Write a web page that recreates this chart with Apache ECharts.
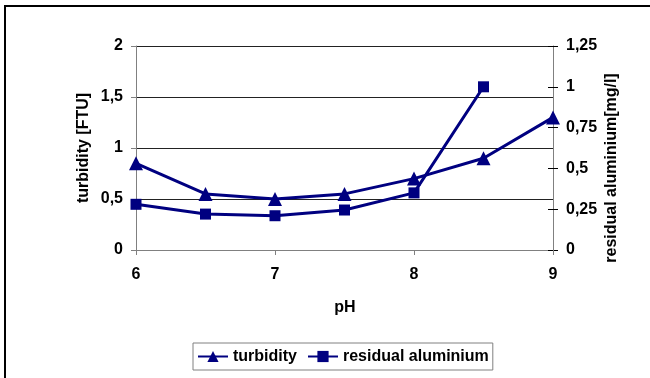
<!DOCTYPE html>
<html><head><meta charset="utf-8">
<script src="https://cdn.jsdelivr.net/npm/echarts@6/dist/echarts.min.js"></script>
<style>html,body{margin:0;padding:0;background:#fff}#c{width:650px;height:378px}</style>
</head><body><div id="c"></div>
<script>
var pH = [6, 6.5, 7, 7.5, 8, 8.5, 9];
var turbidity = [0.85, 0.55, 0.5, 0.55, 0.7, 0.9, 1.3];
var aluminium = [0.28, 0.22, 0.21, 0.245, 0.35, 1.0, null];
var seriesNames = ['turbidity', 'residual aluminium'];
var xTitle = 'pH', yLeftTitle = 'turbidity [FTU]', yRightTitle = 'residual aluminium[mg/l]';

function pairs(xs, ys){ var out=[]; for(var i=0;i<xs.length;i++){ if(ys[i]!=null) out.push([xs[i], ys[i]]); } return out; }
function comma(v){ return String(v).replace('.', ','); }
var font = 'Liberation Sans, Arial, sans-serif';
var navy = '#000080';
var fs = 16;
var titleStyle = {fill:'#000', font:'bold ' + fs + 'px ' + font, align:'center', verticalAlign:'middle'};

var chart = echarts.init(document.getElementById('c'));
chart.setOption({
  animation: false,
  textStyle: {fontFamily: font},
  graphic: [
    {type:'rect', shape:{x:5, y:6, width:700, height:420}, style:{fill:'none', stroke:'#000', lineWidth:2}, z:-1},
    {type:'text', x:345, y:308, style:Object.assign({text:xTitle}, titleStyle)},
    {type:'text', x:84, y:148, rotation:Math.PI/2, style:Object.assign({text:yLeftTitle}, titleStyle)},
    {type:'text', x:612, y:168, rotation:Math.PI/2, style:Object.assign({text:yRightTitle}, titleStyle)}
  ],
  grid: {left:136, right:97, top:46, bottom:128},
  xAxis: {
    type:'value', min:6, max:9, interval:1,
    axisLine:{show:true, lineStyle:{color:'#808080', width:1}},
    axisTick:{show:true, length:5, lineStyle:{color:'#808080'}},
    axisLabel:{fontFamily:font, fontWeight:'bold', fontSize:fs, color:'#000', margin:17},
    splitLine:{show:false}
  },
  yAxis: [{
    type:'value', min:0, max:2, interval:0.5, position:'left',
    axisLine:{show:true, lineStyle:{color:'#808080'}},
    axisTick:{show:true, length:5, lineStyle:{color:'#808080'}},
    axisLabel:{fontFamily:font, fontWeight:'bold', fontSize:fs, color:'#000', margin:13, formatter:comma},
    splitLine:{show:true, lineStyle:{color:'#222', width:1}}
  },{
    type:'value', min:0, max:1.25, interval:0.25, position:'right',
    axisLine:{show:true, lineStyle:{color:'#808080'}},
    axisTick:{show:true, length:5, lineStyle:{color:'#000'}},
    axisLabel:{fontFamily:font, fontWeight:'bold', fontSize:fs, color:'#000', margin:13, formatter:comma},
    splitLine:{show:false}
  },{
    type:'value', min:0, max:1.25, interval:0.25, position:'right',
    axisLine:{show:false},
    axisTick:{show:true, inside:true, length:5, lineStyle:{color:'#000'}},
    axisLabel:{show:false}, splitLine:{show:false}
  }],
  legend: {
    top: 343, left: 193,
    itemGap: 10, itemWidth: 30, itemHeight: 14, padding:[5,4,5,4],
    borderColor:'#808080', borderWidth:1,
    textStyle:{fontFamily:font, fontWeight:'bold', fontSize:fs, color:'#000', lineHeight:17},
    data: seriesNames
  },
  series: [{
    name: seriesNames[0], type:'line', yAxisIndex:0,
    data: pairs(pH, turbidity),
    symbol:'triangle', symbolSize:14,
    lineStyle:{color:navy, width:3}, itemStyle:{color:navy}
  },{
    name: seriesNames[1], type:'line', yAxisIndex:1,
    data: pairs(pH, aluminium),
    symbol:'rect', symbolSize:11,
    lineStyle:{color:navy, width:3}, itemStyle:{color:navy}
  }]
});
</script></body></html>
